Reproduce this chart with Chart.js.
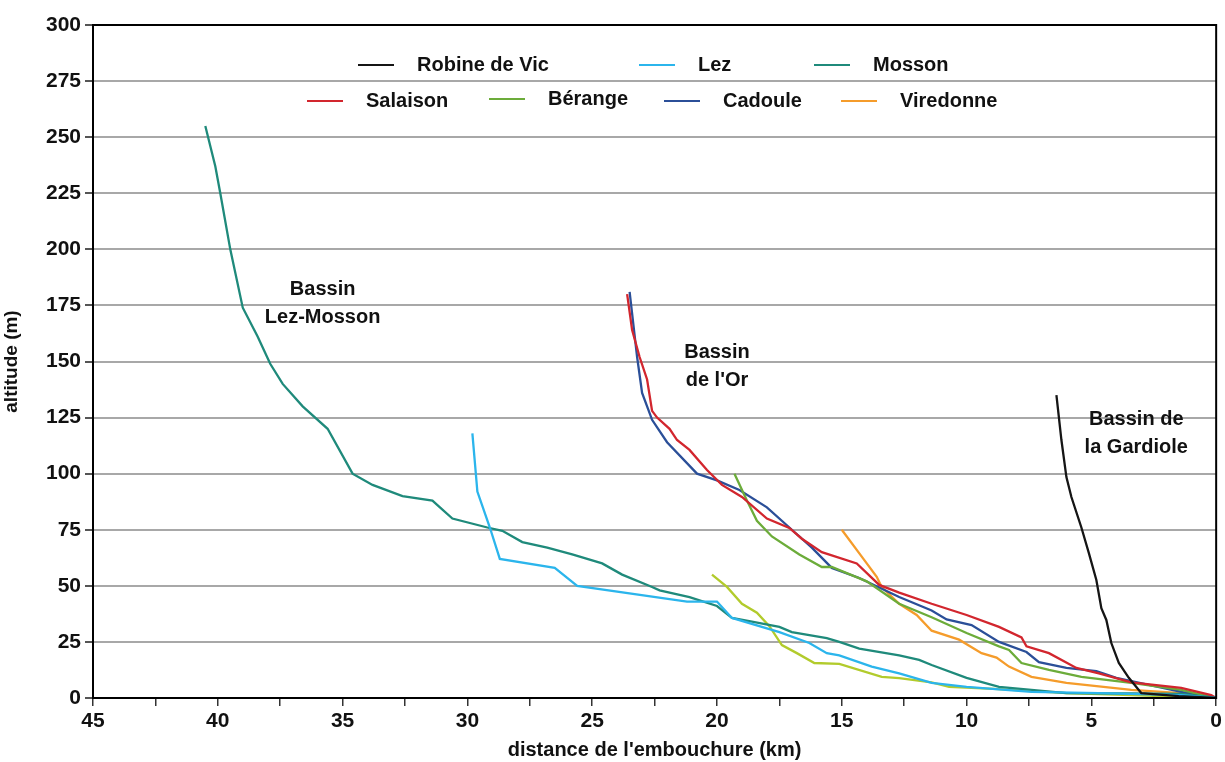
<!DOCTYPE html>
<html>
<head>
<meta charset="utf-8">
<script src="https://cdn.jsdelivr.net/npm/chart.js@4/dist/chart.umd.min.js"></script>
<style>
  html, body { margin: 0; padding: 0; background: #fff; }
  #wrap { width: 1225px; height: 762px; }
</style>
</head>
<body>
<div id="wrap"><canvas id="profilChart"></canvas></div>
<script>
// profils en long des cours d'eau (distance km / altitude m)
const robineKm  = [6.4, 6.2, 6.0, 5.8, 5.4, 5.1, 4.8, 4.6, 4.4, 4.2, 3.9, 3.5, 3.1, 3.0, 1.5, 0];
const robineAlt = [135, 115, 98.5, 89.6, 76, 64.6, 52.6, 40, 34.8, 24.5, 15.6, 9, 3.6, 2.2, 0.8, 0];

const lezKm  = [29.8, 29.6, 29.1, 28.7, 26.5, 25.6, 21.2, 20.0, 19.4, 17.5, 16.3, 15.6, 15.1, 13.8, 12.7, 11.4, 10.0, 7.4, 4.7, 1.4, 0];
const lezAlt = [118, 92, 76, 62, 58, 50, 43, 43, 35.7, 29.4, 24.5, 20, 19, 14, 11, 6.7, 5, 2.7, 2.2, 1.3, 0];

const mossonKm  = [40.5, 40.1, 39.9, 39.5, 39.0, 38.4, 37.9, 37.4, 36.6, 35.6, 34.6, 33.8, 32.6, 31.4, 31.1, 30.6, 29.2, 28.6, 27.8, 26.8, 25.8, 24.6, 23.8, 22.6, 22.3, 21.1, 20.0, 19.4, 18.6, 17.5, 17.0, 15.6, 15.1, 14.3, 12.7, 11.9, 11.4, 10.0, 8.7, 7.4, 6.0, 3.4, 1.4, 0];
const mossonAlt = [255, 237, 225, 200, 174, 161, 149, 140, 130, 120, 100, 95, 90, 88, 85, 80, 76, 74.5, 69.5, 67, 64, 60, 55, 49.5, 48, 45, 41, 35.7, 34, 31.7, 29.4, 26.7, 25, 22, 19, 17, 14.7, 9, 5, 3.6, 2.2, 2, 1.8, 0];

const salaisonKm  = [23.6, 23.4, 23.1, 22.8, 22.6, 22.4, 21.9, 21.6, 21.1, 20.4, 19.8, 19.0, 18.0, 17.1, 16.6, 15.8, 14.4, 13.5, 12.7, 11.4, 10.0, 8.7, 7.8, 7.6, 6.7, 5.6, 4.7, 3.4, 1.4, 0.2, 0];
const salaisonAlt = [180, 164, 152, 142, 128, 125, 120, 115, 110.6, 101.6, 95, 89.6, 80, 75.8, 71, 65, 60, 50.4, 47, 42, 37, 31.7, 27, 23, 20, 13.4, 11, 7, 4.5, 1.3, 0];

const berangeKm  = [19.3, 18.8, 18.4, 17.8, 16.7, 15.8, 15.4, 14.0, 12.7, 11.4, 10.0, 8.7, 8.3, 7.8, 6.7, 5.4, 3.4, 1.4, 0];
const berangeAlt = [100, 88, 79, 72, 64, 58.4, 58.4, 52, 42, 36, 29, 23, 21.4, 15.6, 12.5, 9.4, 6.7, 3.6, 0];

const cadouleKm  = [23.5, 23.2, 23.0, 22.6, 22.0, 20.8, 20.0, 19.1, 18.0, 17.0, 16.2, 15.4, 14.3, 12.7, 11.4, 10.8, 9.8, 8.7, 7.6, 7.1, 6.0, 4.8, 4.0, 2.7, 1.4, 0];
const cadouleAlt = [181, 152, 136, 124, 114, 100, 97, 92.7, 85, 75, 67, 58, 53.5, 45, 39, 35, 32.5, 25, 20.5, 16, 13.4, 12, 9, 5.8, 2.7, 0];

const viredonneKm  = [15.0, 14.2, 13.6, 13.4, 12.7, 12.0, 11.4, 10.3, 9.4, 8.8, 8.3, 7.4, 6.0, 3.4, 1.4, 0];
const viredonneAlt = [75, 63, 54, 49.5, 42, 37, 30, 26, 20, 18, 14, 9.4, 6.7, 3.6, 2.2, 0];

// courbe sans entrée de légende
const autreKm  = [20.2, 19.6, 19.0, 18.4, 17.9, 17.4, 16.8, 16.1, 15.1, 13.4, 12.7, 11.4, 10.7, 8.7, 6.0, 3.4, 0];
const autreAlt = [55, 49.5, 42, 38, 32, 23.6, 20, 15.6, 15.2, 9.4, 8.9, 7, 5, 4, 2.2, 1.3, 0];

const yTicks = [0, 25, 50, 75, 100, 125, 150, 175, 200, 225, 250, 275, 300];
const xTicks = [45, 40, 35, 30, 25, 20, 15, 10, 5, 0];

function pts(km, alt) {
  return km.map((k, i) => ({ x: k, y: alt[i] }));
}

function serie(label, km, alt, color) {
  return {
    label: label,
    data: pts(km, alt),
    borderColor: color,
    backgroundColor: color,
    borderWidth: 2.3,
    pointRadius: 0,
    fill: false,
    tension: 0
  };
}

const datasets = [
  serie('Robine de Vic', robineKm, robineAlt, '#151515'),
  serie('Lez', lezKm, lezAlt, '#2bb5ec'),
  serie('Mosson', mossonKm, mossonAlt, '#1f8a7b'),
  serie('Salaison', salaisonKm, salaisonAlt, '#d2262e'),
  serie('Bérange', berangeKm, berangeAlt, '#6cac3a'),
  serie('Cadoule', cadouleKm, cadouleAlt, '#2b4f98'),
  serie('Viredonne', viredonneKm, viredonneAlt, '#f59c2b'),
  serie('', autreKm, autreAlt, '#b2cb2c')
];

const FONT = "'Liberation Sans', Arial, sans-serif";

// légende sur deux lignes, dessinée à la main
const legendPos = [
  [358, 65], [639, 65], [814, 65],
  [307, 101], [489, 99], [664, 101], [841, 101]
];

const legendeBassins = {
  id: 'legendeBassins',
  afterDraw(chart) {
    const c = chart.ctx;
    const a = chart.chartArea;
    const xs = chart.scales.x, ys = chart.scales.y;
    c.save();
    // cadre
    c.strokeStyle = '#000';
    c.lineWidth = 2;
    c.strokeRect(a.left, a.top, a.right - a.left, a.bottom - a.top);

    // légende
    c.font = 'bold 20px ' + FONT;
    c.textBaseline = 'middle';
    c.textAlign = 'left';
    legendPos.forEach((p, i) => {
      const ds = chart.data.datasets[i];
      c.strokeStyle = ds.borderColor;
      c.lineWidth = 2;
      c.beginPath();
      c.moveTo(p[0], p[1]);
      c.lineTo(p[0] + 36, p[1]);
      c.stroke();
      c.fillStyle = '#111';
      c.fillText(ds.label, p[0] + 59, p[1]);
    });

    // noms des bassins
    c.textAlign = 'center';
    c.font = 'bold 20px ' + FONT;
    const bassins = [
      [35.8, 182, 'Bassin'], [35.8, 169.5, 'Lez-Mosson'],
      [20.0, 154, 'Bassin'], [20.0, 141.5, "de l'Or"],
      [3.2, 124, 'Bassin de'], [3.2, 111.5, 'la Gardiole']
    ];
    bassins.forEach(b => {
      c.fillText(b[2], xs.getPixelForValue(b[0]), ys.getPixelForValue(b[1]));
    });
    c.restore();
  }
};

new Chart(document.getElementById('profilChart'), {
  type: 'line',
  data: { datasets: datasets },
  options: {
    responsive: true,
    maintainAspectRatio: false,
    animation: false,
    layout: { padding: { top: 25, right: 8, left: 0, bottom: 0 } },
    plugins: {
      legend: { display: false },
      tooltip: { enabled: false }
    },
    scales: {
      x: {
        type: 'linear',
        reverse: true,
        min: 0,
        max: 45,
        afterFit(scale) { scale.height = 64; },
        afterBuildTicks(scale) {
          const t = [];
          for (let v = 45; v >= 0; v -= 2.5) t.push({ value: v });
          scale.ticks = t;
        },
        ticks: {
          color: '#111',
          padding: 3,
          maxRotation: 0,
          autoSkip: false,
          font: { family: FONT, size: 21, weight: 'bold' },
          callback: (v) => xTicks.includes(v) ? String(v) : ''
        },
        grid: { drawOnChartArea: false, drawTicks: true, tickLength: 8, color: '#333', lineWidth: 1.5 },
        border: { color: '#000', width: 2 },
        title: {
          display: true,
          text: "distance de l'embouchure (km)",
          color: '#111',
          padding: { top: 6, bottom: 0 },
          font: { family: FONT, size: 20, weight: 'bold' }
        }
      },
      y: {
        type: 'linear',
        min: 0,
        max: 300,
        afterFit(scale) { scale.width = 93; },
        afterBuildTicks(scale) {
          scale.ticks = yTicks.map(v => ({ value: v }));
        },
        ticks: {
          color: '#111',
          padding: 4,
          font: { family: FONT, size: 21, weight: 'bold' }
        },
        grid: { color: '#a8a8a8', lineWidth: 2, drawTicks: true, tickLength: 8, tickColor: '#555' },
        border: { color: '#000', width: 2 },
        title: {
          display: true,
          text: 'altitude (m)',
          color: '#111',
          padding: { top: 0, bottom: 2 },
          font: { family: FONT, size: 19, weight: 'bold' }
        }
      }
    }
  },
  plugins: [legendeBassins]
});
</script>
</body>
</html>
